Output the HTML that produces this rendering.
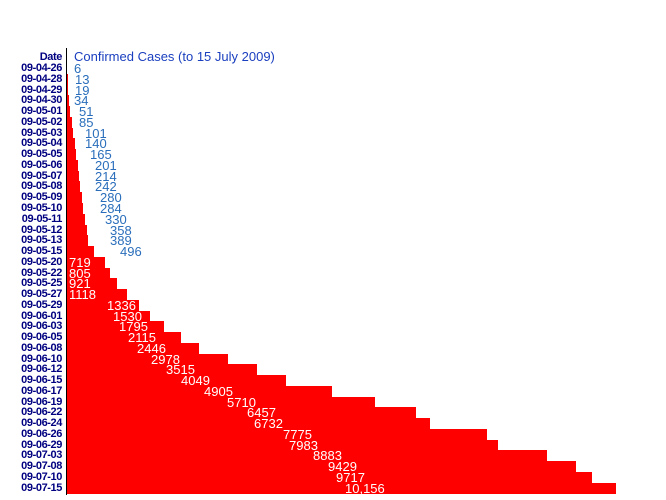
<!DOCTYPE html>
<html><head><meta charset="utf-8"><style>
body{margin:0;width:666px;height:500px;background:#fff;position:relative;overflow:hidden;font-family:"Liberation Sans",sans-serif}
.d{position:absolute;right:604px;font-size:11px;font-weight:bold;color:#000080;line-height:11px;letter-spacing:-0.4px;white-space:nowrap}
.v{position:absolute;font-size:13px;line-height:11px;color:#2a6ebb;white-space:nowrap}
.w{color:#fff}
.b{position:absolute;left:67px;background:#f00;height:11px}
</style></head><body>
<div style="position:absolute;left:66px;top:48px;width:1px;height:447px;background:#000"></div>
<div class="d" style="top:52px">Date</div>
<div class="v" style="left:74px;top:50px;color:#1a3fbf;line-height:13px">Confirmed Cases (to 15 July 2009)</div>

<div class="b" style="top:63px;width:0px"></div>
<div class="b" style="top:74px;width:1px"></div>
<div class="b" style="top:85px;width:1px"></div>
<div class="b" style="top:95px;width:2px"></div>
<div class="b" style="top:106px;width:3px"></div>
<div class="b" style="top:117px;width:5px"></div>
<div class="b" style="top:128px;width:6px"></div>
<div class="b" style="top:138px;width:8px"></div>
<div class="b" style="top:149px;width:9px"></div>
<div class="b" style="top:160px;width:11px"></div>
<div class="b" style="top:171px;width:12px"></div>
<div class="b" style="top:181px;width:13px"></div>
<div class="b" style="top:192px;width:15px"></div>
<div class="b" style="top:203px;width:16px"></div>
<div class="b" style="top:214px;width:18px"></div>
<div class="b" style="top:225px;width:20px"></div>
<div class="b" style="top:235px;width:21px"></div>
<div class="b" style="top:246px;width:27px"></div>
<div class="b" style="top:257px;width:38px"></div>
<div class="b" style="top:268px;width:43px"></div>
<div class="b" style="top:278px;width:50px"></div>
<div class="b" style="top:289px;width:60px"></div>
<div class="b" style="top:300px;width:72px"></div>
<div class="b" style="top:311px;width:83px"></div>
<div class="b" style="top:321px;width:97px"></div>
<div class="b" style="top:332px;width:114px"></div>
<div class="b" style="top:343px;width:132px"></div>
<div class="b" style="top:354px;width:161px"></div>
<div class="b" style="top:364px;width:190px"></div>
<div class="b" style="top:375px;width:219px"></div>
<div class="b" style="top:386px;width:265px"></div>
<div class="b" style="top:397px;width:308px"></div>
<div class="b" style="top:407px;width:349px"></div>
<div class="b" style="top:418px;width:363px"></div>
<div class="b" style="top:429px;width:420px"></div>
<div class="b" style="top:440px;width:431px"></div>
<div class="b" style="top:450px;width:480px"></div>
<div class="b" style="top:461px;width:509px"></div>
<div class="b" style="top:472px;width:525px"></div>
<div class="b" style="top:483px;width:549px"></div>

<div class="d" style="top:63px">09-04-26</div><div class="v" style="left:74px;top:63px">6</div>
<div class="d" style="top:74px">09-04-28</div><div class="v" style="left:75px;top:74px">13</div>
<div class="d" style="top:85px">09-04-29</div><div class="v" style="left:75px;top:85px">19</div>
<div class="d" style="top:95px">09-04-30</div><div class="v" style="left:74px;top:95px">34</div>
<div class="d" style="top:106px">09-05-01</div><div class="v" style="left:79px;top:106px">51</div>
<div class="d" style="top:117px">09-05-02</div><div class="v" style="left:79px;top:117px">85</div>
<div class="d" style="top:128px">09-05-03</div><div class="v" style="left:85px;top:128px">101</div>
<div class="d" style="top:138px">09-05-04</div><div class="v" style="left:85px;top:138px">140</div>
<div class="d" style="top:149px">09-05-05</div><div class="v" style="left:90px;top:149px">165</div>
<div class="d" style="top:160px">09-05-06</div><div class="v" style="left:95px;top:160px">201</div>
<div class="d" style="top:171px">09-05-07</div><div class="v" style="left:95px;top:171px">214</div>
<div class="d" style="top:181px">09-05-08</div><div class="v" style="left:95px;top:181px">242</div>
<div class="d" style="top:192px">09-05-09</div><div class="v" style="left:100px;top:192px">280</div>
<div class="d" style="top:203px">09-05-10</div><div class="v" style="left:100px;top:203px">284</div>
<div class="d" style="top:214px">09-05-11</div><div class="v" style="left:105px;top:214px">330</div>
<div class="d" style="top:225px">09-05-12</div><div class="v" style="left:110px;top:225px">358</div>
<div class="d" style="top:235px">09-05-13</div><div class="v" style="left:110px;top:235px">389</div>
<div class="d" style="top:246px">09-05-15</div><div class="v" style="left:120px;top:246px">496</div>
<div class="d" style="top:257px">09-05-20</div><div class="v w" style="left:69px;top:257px">719</div>
<div class="d" style="top:268px">09-05-22</div><div class="v w" style="left:69px;top:268px">805</div>
<div class="d" style="top:278px">09-05-25</div><div class="v w" style="left:69px;top:278px">921</div>
<div class="d" style="top:289px">09-05-27</div><div class="v w" style="left:69px;top:289px">1118</div>
<div class="d" style="top:300px">09-05-29</div><div class="v w" style="left:107px;top:300px">1336</div>
<div class="d" style="top:311px">09-06-01</div><div class="v w" style="left:113px;top:311px">1530</div>
<div class="d" style="top:321px">09-06-03</div><div class="v w" style="left:119px;top:321px">1795</div>
<div class="d" style="top:332px">09-06-05</div><div class="v w" style="left:128px;top:332px">2115</div>
<div class="d" style="top:343px">09-06-08</div><div class="v w" style="left:137px;top:343px">2446</div>
<div class="d" style="top:354px">09-06-10</div><div class="v w" style="left:151px;top:354px">2978</div>
<div class="d" style="top:364px">09-06-12</div><div class="v w" style="left:166px;top:364px">3515</div>
<div class="d" style="top:375px">09-06-15</div><div class="v w" style="left:181px;top:375px">4049</div>
<div class="d" style="top:386px">09-06-17</div><div class="v w" style="left:204px;top:386px">4905</div>
<div class="d" style="top:397px">09-06-19</div><div class="v w" style="left:227px;top:397px">5710</div>
<div class="d" style="top:407px">09-06-22</div><div class="v w" style="left:247px;top:407px">6457</div>
<div class="d" style="top:418px">09-06-24</div><div class="v w" style="left:254px;top:418px">6732</div>
<div class="d" style="top:429px">09-06-26</div><div class="v w" style="left:283px;top:429px">7775</div>
<div class="d" style="top:440px">09-06-29</div><div class="v w" style="left:289px;top:440px">7983</div>
<div class="d" style="top:450px">09-07-03</div><div class="v w" style="left:313px;top:450px">8883</div>
<div class="d" style="top:461px">09-07-08</div><div class="v w" style="left:328px;top:461px">9429</div>
<div class="d" style="top:472px">09-07-10</div><div class="v w" style="left:336px;top:472px">9717</div>
<div class="d" style="top:483px">09-07-15</div><div class="v w" style="left:345px;top:483px">10,156</div>
</body></html>
